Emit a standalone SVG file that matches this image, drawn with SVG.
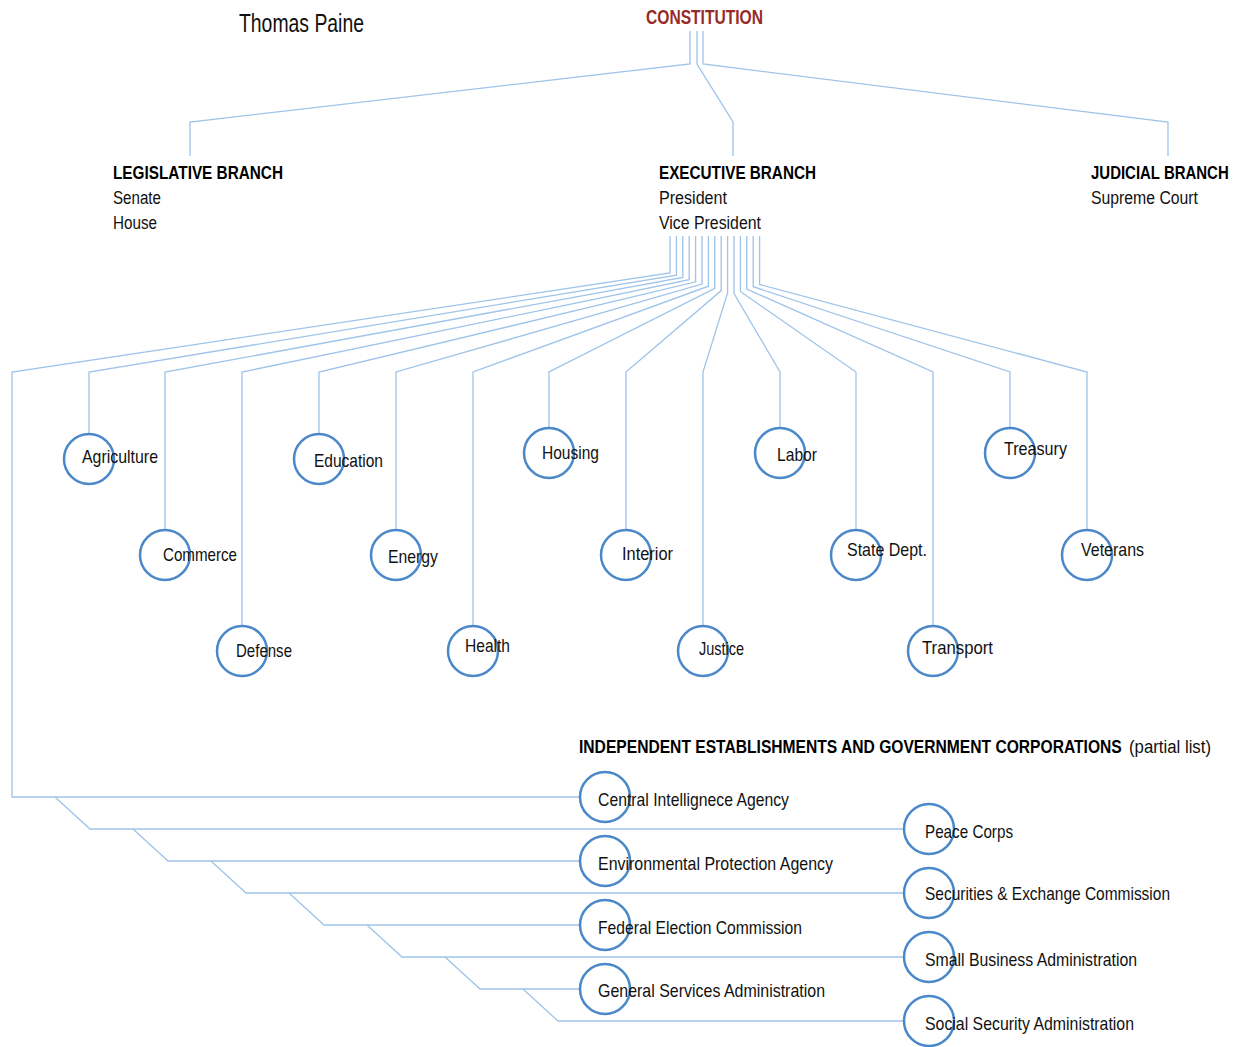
<svg xmlns="http://www.w3.org/2000/svg" width="1235" height="1047" viewBox="0 0 1235 1047">
<style>
  .ln { fill: none; stroke: #9ec4ea; stroke-width: 1.3; }
  .c { fill: #fff; fill-opacity: 0; stroke: #4a88c9; stroke-width: 2.5; }
  .t { font-family: "Liberation Sans", Arial, sans-serif; font-size: 19px; fill: #111; }
  .s { font-family: "Liberation Sans", Arial, sans-serif; font-size: 18px; fill: #111; }
  .h { font-family: "Liberation Sans", Arial, sans-serif; font-size: 19px; font-weight: bold; fill: #000; }
</style>
<rect width="1235" height="1047" fill="#ffffff"/>

<g id="connectors">
  <!-- constitution to branches -->
  <polyline class="ln" points="690,31 690,64 190,122 190,156"/>
  <polyline class="ln" points="697,31 697,64 733,122 733,156"/>
  <polyline class="ln" points="703,31 703,64 1168,122 1168,156"/>
  <!-- executive to departments -->
  <polyline class="ln" points="670,236 670,273 12,372 12,797 579,797"/>
  <polyline class="ln" points="676.4,236 676.4,275.2 89,372 89,433"/>
  <polyline class="ln" points="682.8,236 682.8,277.4 165,372 165,529"/>
  <polyline class="ln" points="689.2,236 689.2,279.6 242,372 242,625"/>
  <polyline class="ln" points="695.6,236 695.6,281.8 319,372 319,433"/>
  <polyline class="ln" points="702,236 702,284 396,372 396,529"/>
  <polyline class="ln" points="708.4,236 708.4,286.2 473,372 473,625"/>
  <polyline class="ln" points="714.8,236 714.8,288.4 549,372 549,427"/>
  <polyline class="ln" points="721.2,236 721.2,290.6 626,372 626,529"/>
  <polyline class="ln" points="727.6,236 727.6,293 703,372 703,625"/>
  <polyline class="ln" points="734,236 734,293.5 780,372 780,427"/>
  <polyline class="ln" points="740.4,236 740.4,291.5 856,372 856,529"/>
  <polyline class="ln" points="746.8,236 746.8,289 933,372 933,625"/>
  <polyline class="ln" points="753.2,236 753.2,286.7 1010,372 1010,427"/>
  <polyline class="ln" points="759.6,236 759.6,284.5 1087,372 1087,529"/>
  <!-- independent establishments cascade -->
  <polyline class="ln" points="55,797 90,829 903,829"/>
  <polyline class="ln" points="133,829 168,861 579,861"/>
  <polyline class="ln" points="211,861 246,893 903,893"/>
  <polyline class="ln" points="289,893 324,925 579,925"/>
  <polyline class="ln" points="367,925 402,957 903,957"/>
  <polyline class="ln" points="445,957 480,989 579,989"/>
  <polyline class="ln" points="523,989 558,1021 903,1021"/>
</g>

<g id="title"><text class="t" x="239" y="32" style="font-size:25px" textLength="125" lengthAdjust="spacingAndGlyphs" fill="#222">Thomas Paine</text></g>
<g id="constitution"><text class="h" x="646" y="24" style="font-size:20px;fill:#962b27" textLength="117" lengthAdjust="spacingAndGlyphs">CONSTITUTION</text></g>

<g id="legislative">
  <text class="h" x="113" y="179" textLength="170" lengthAdjust="spacingAndGlyphs">LEGISLATIVE BRANCH</text>
  <text class="s" x="113" y="204" textLength="48" lengthAdjust="spacingAndGlyphs">Senate</text>
  <text class="s" x="113" y="229" textLength="44" lengthAdjust="spacingAndGlyphs">House</text>
</g>
<g id="executive">
  <text class="h" x="659" y="179" textLength="157" lengthAdjust="spacingAndGlyphs">EXECUTIVE BRANCH</text>
  <text class="s" x="659" y="204" textLength="68" lengthAdjust="spacingAndGlyphs">President</text>
  <text class="s" x="659" y="229" textLength="102" lengthAdjust="spacingAndGlyphs">Vice President</text>
</g>
<g id="judicial">
  <text class="h" transform="translate(1091 179) scale(0.788 1)" x="0" y="0">JUDICIAL BRANCH</text>
  <text class="s" x="1091" y="204" textLength="107" lengthAdjust="spacingAndGlyphs">Supreme Court</text>
</g>

<g id="agriculture"><circle class="c" cx="89" cy="459" r="25"/><text class="t" x="82" y="463" textLength="76" lengthAdjust="spacingAndGlyphs">Agriculture</text></g>
<g id="commerce"><circle class="c" cx="165" cy="555" r="25"/><text class="t" x="163" y="561" textLength="74" lengthAdjust="spacingAndGlyphs">Commerce</text></g>
<g id="defense"><circle class="c" cx="242" cy="651" r="25"/><text class="t" x="236" y="657" textLength="56" lengthAdjust="spacingAndGlyphs">Defense</text></g>
<g id="education"><circle class="c" cx="319" cy="459" r="25"/><text class="t" x="314" y="467" textLength="69" lengthAdjust="spacingAndGlyphs">Education</text></g>
<g id="energy"><circle class="c" cx="396" cy="555" r="25"/><text class="t" x="388" y="563" textLength="50" lengthAdjust="spacingAndGlyphs">Energy</text></g>
<g id="health"><circle class="c" cx="473" cy="651" r="25"/><text class="t" x="465" y="652" textLength="45" lengthAdjust="spacingAndGlyphs">Health</text></g>
<g id="housing"><circle class="c" cx="549" cy="453" r="25"/><text class="t" x="542" y="459" textLength="57" lengthAdjust="spacingAndGlyphs">Housing</text></g>
<g id="interior"><circle class="c" cx="626" cy="555" r="25"/><text class="t" x="622" y="560" textLength="51" lengthAdjust="spacingAndGlyphs">Interior</text></g>
<g id="justice"><circle class="c" cx="703" cy="651" r="25"/><text class="t" x="699" y="655" textLength="45" lengthAdjust="spacingAndGlyphs">Justice</text></g>
<g id="labor"><circle class="c" cx="780" cy="453" r="25"/><text class="t" x="777" y="461" textLength="40" lengthAdjust="spacingAndGlyphs">Labor</text></g>
<g id="state"><circle class="c" cx="856" cy="555" r="25"/><text class="t" x="847" y="556" textLength="80" lengthAdjust="spacingAndGlyphs">State Dept.</text></g>
<g id="transport"><circle class="c" cx="933" cy="651" r="25"/><text class="t" x="922" y="654" textLength="71" lengthAdjust="spacingAndGlyphs">Transport</text></g>
<g id="treasury"><circle class="c" cx="1010" cy="453" r="25"/><text class="t" x="1004" y="455" textLength="63" lengthAdjust="spacingAndGlyphs">Treasury</text></g>
<g id="veterans"><circle class="c" cx="1087" cy="555" r="25"/><text class="t" x="1081" y="556" textLength="63" lengthAdjust="spacingAndGlyphs">Veterans</text></g>

<g id="independent-header">
  <text class="h" transform="translate(579 753) scale(0.823 1)" x="0" y="0">INDEPENDENT ESTABLISHMENTS AND GOVERNMENT CORPORATIONS</text>
  <text class="s" x="1129" y="753" textLength="82" lengthAdjust="spacingAndGlyphs">(partial list)</text>
</g>

<g id="cia"><circle class="c" cx="605" cy="797" r="25"/><text class="t" x="598" y="806" textLength="191" lengthAdjust="spacingAndGlyphs">Central Intellignece Agency</text></g>
<g id="peace-corps"><circle class="c" cx="929" cy="829" r="25"/><text class="t" x="925" y="838" textLength="88" lengthAdjust="spacingAndGlyphs">Peace Corps</text></g>
<g id="epa"><circle class="c" cx="605" cy="861" r="25"/><text class="t" x="598" y="870" textLength="235" lengthAdjust="spacingAndGlyphs">Environmental Protection Agency</text></g>
<g id="sec"><circle class="c" cx="929" cy="893" r="25"/><text class="t" x="925" y="900" textLength="245" lengthAdjust="spacingAndGlyphs">Securities &amp; Exchange Commission</text></g>
<g id="fec"><circle class="c" cx="605" cy="925" r="25"/><text class="t" x="598" y="934" textLength="204" lengthAdjust="spacingAndGlyphs">Federal Election Commission</text></g>
<g id="sba"><circle class="c" cx="929" cy="957" r="25"/><text class="t" x="925" y="966" textLength="212" lengthAdjust="spacingAndGlyphs">Small Business Administration</text></g>
<g id="gsa"><circle class="c" cx="605" cy="989" r="25"/><text class="t" x="598" y="997" textLength="227" lengthAdjust="spacingAndGlyphs">General Services Administration</text></g>
<g id="ssa"><circle class="c" cx="929" cy="1021" r="25"/><text class="t" x="925" y="1030" textLength="209" lengthAdjust="spacingAndGlyphs">Social Security Administration</text></g>
</svg>
